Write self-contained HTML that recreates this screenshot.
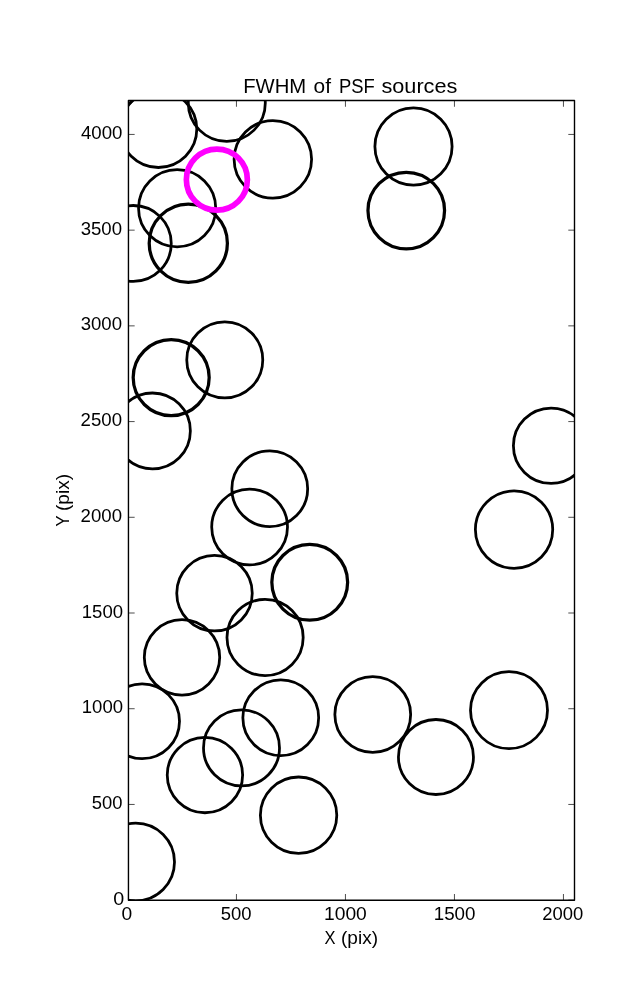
<!DOCTYPE html>
<html><head><meta charset="utf-8"><style>
html,body{margin:0;padding:0;background:#fff;width:637px;height:1000px;overflow:hidden}
svg{display:block;will-change:transform}
text{font-family:"Liberation Sans",sans-serif}
</style></head><body>
<svg width="637" height="1000" viewBox="0 0 637 1000">
<rect width="637" height="1000" fill="#fff"/>
<clipPath id="ax"><rect x="128.45" y="100.55" width="446.05" height="799.65"/></clipPath>
<g clip-path="url(#ax)" fill="none" stroke="#000" stroke-width="2.78">
<circle cx="103.1" cy="75.1" r="38.65"/>
<circle cx="158.4" cy="129.1" r="38.4"/>
<circle cx="226.8" cy="102.9" r="38.5"/>
<circle cx="272.85" cy="159.35" r="38.75"/>
<circle cx="413.5" cy="146.5" r="38.6"/>
<circle cx="406.26" cy="210.55" r="38.3" stroke-width="3.25"/>
<circle cx="177.14" cy="208.27" r="38.6"/>
<circle cx="188.3" cy="243.19" r="39.1" stroke-width="3.25"/>
<circle cx="133.3" cy="243.46" r="37.95"/>
<circle cx="224.76" cy="359.95" r="38.0"/>
<circle cx="171.18" cy="377.62" r="38.0" stroke-width="3.25"/>
<circle cx="152.46" cy="430.9" r="37.9"/>
<circle cx="551.1" cy="445.74" r="37.7"/>
<circle cx="514.05" cy="529.6" r="38.67"/>
<circle cx="269.76" cy="488.75" r="37.9"/>
<circle cx="249.6" cy="527.0" r="37.9"/>
<circle cx="309.73" cy="582.3" r="37.9" stroke-width="3.25"/>
<circle cx="214.5" cy="593.2" r="37.75"/>
<circle cx="265.08" cy="637.5" r="38.1"/>
<circle cx="182.0" cy="657.35" r="37.7"/>
<circle cx="142.1" cy="721.33" r="37.4"/>
<circle cx="280.76" cy="717.7" r="37.9"/>
<circle cx="241.5" cy="747.9" r="38.0"/>
<circle cx="204.93" cy="775.06" r="37.7"/>
<circle cx="298.58" cy="815.2" r="38.2"/>
<circle cx="135.7" cy="862.0" r="38.8"/>
<circle cx="372.76" cy="714.5" r="37.9"/>
<circle cx="435.95" cy="757.0" r="37.5"/>
<circle cx="509.0" cy="710.14" r="38.5"/>
<circle cx="216.86" cy="179.66" r="30.5" stroke="#ff00ff" stroke-width="5.7"/>
</g>
<g stroke="#000" stroke-width="0.7" fill="none">
<path d="M128.45 900.15h6.2M574.5 900.15h-6.2"/>
<path d="M128.45 804.44h6.2M574.5 804.44h-6.2"/>
<path d="M128.45 708.72h6.2M574.5 708.72h-6.2"/>
<path d="M128.45 613.01h6.2M574.5 613.01h-6.2"/>
<path d="M128.45 517.29h6.2M574.5 517.29h-6.2"/>
<path d="M128.45 421.58h6.2M574.5 421.58h-6.2"/>
<path d="M128.45 325.86h6.2M574.5 325.86h-6.2"/>
<path d="M128.45 230.15h6.2M574.5 230.15h-6.2"/>
<path d="M128.45 134.43h6.2M574.5 134.43h-6.2"/>
<path d="M128.45 900.2v-6.2M128.45 100.55v6.2"/>
<path d="M236.45 900.2v-6.2M236.45 100.55v6.2"/>
<path d="M345.45 900.2v-6.2M345.45 100.55v6.2"/>
<path d="M454.45 900.2v-6.2M454.45 100.55v6.2"/>
<path d="M563.45 900.2v-6.2M563.45 100.55v6.2"/>
</g>
<rect x="128.45" y="100.55" width="446.05" height="799.65" fill="none" stroke="#000" stroke-width="1.39" stroke-linejoin="round"/>
<g font-family="Liberation Sans, sans-serif" fill="#000">
<text x="113.15" y="904.69" font-size="17.7" textLength="10.97" lengthAdjust="spacingAndGlyphs">0</text>
<text x="91.87" y="808.77" font-size="17.7" textLength="30.71" lengthAdjust="spacingAndGlyphs">500</text>
<text x="81.79" y="713.15" font-size="17.7" textLength="41.29" lengthAdjust="spacingAndGlyphs">1000</text>
<text x="81.79" y="618.05" font-size="17.7" textLength="41.29" lengthAdjust="spacingAndGlyphs">1500</text>
<text x="80.64" y="522.33" font-size="17.7" textLength="41.38" lengthAdjust="spacingAndGlyphs">2000</text>
<text x="80.64" y="426.13" font-size="17.7" textLength="41.38" lengthAdjust="spacingAndGlyphs">2500</text>
<text x="80.67" y="330.15" font-size="17.7" textLength="41.36" lengthAdjust="spacingAndGlyphs">3000</text>
<text x="80.67" y="235.05" font-size="17.7" textLength="41.36" lengthAdjust="spacingAndGlyphs">3500</text>
<text x="80.92" y="138.80" font-size="17.7" textLength="41.50" lengthAdjust="spacingAndGlyphs">4000</text>
<text x="121.55" y="920.31" font-size="17.7" textLength="10.70" lengthAdjust="spacingAndGlyphs">0</text>
<text x="220.82" y="920.21" font-size="17.7" textLength="30.81" lengthAdjust="spacingAndGlyphs">500</text>
<text x="324.06" y="920.30" font-size="17.7" textLength="42.78" lengthAdjust="spacingAndGlyphs">1000</text>
<text x="433.69" y="920.10" font-size="17.7" textLength="41.77" lengthAdjust="spacingAndGlyphs">1500</text>
<text x="542.15" y="920.19" font-size="17.7" textLength="41.03" lengthAdjust="spacingAndGlyphs">2000</text>
<text x="243.20" y="92.8" font-size="19.4" textLength="63.00" lengthAdjust="spacingAndGlyphs">FWHM</text>
<text x="313.60" y="92.8" font-size="19.4" textLength="17.40" lengthAdjust="spacingAndGlyphs">of</text>
<text x="339.00" y="92.8" font-size="19.4" textLength="35.80" lengthAdjust="spacingAndGlyphs">PSF</text>
<text x="381.40" y="92.8" font-size="19.4" textLength="76.00" lengthAdjust="spacingAndGlyphs">sources</text>
<text x="324.50" y="943.9" font-size="17.7" textLength="11.00" lengthAdjust="spacingAndGlyphs">X</text>
<text x="341.00" y="943.9" font-size="17.7" textLength="37.00" lengthAdjust="spacingAndGlyphs">(pix)</text>
<text transform="translate(68.8 526.50) rotate(-90)" x="0" y="0" font-size="17.7" textLength="11.00" lengthAdjust="spacingAndGlyphs">Y</text>
<text transform="translate(68.8 511.00) rotate(-90)" x="0" y="0" font-size="17.7" textLength="37.00" lengthAdjust="spacingAndGlyphs">(pix)</text>
</g>
</svg>
</body></html>
